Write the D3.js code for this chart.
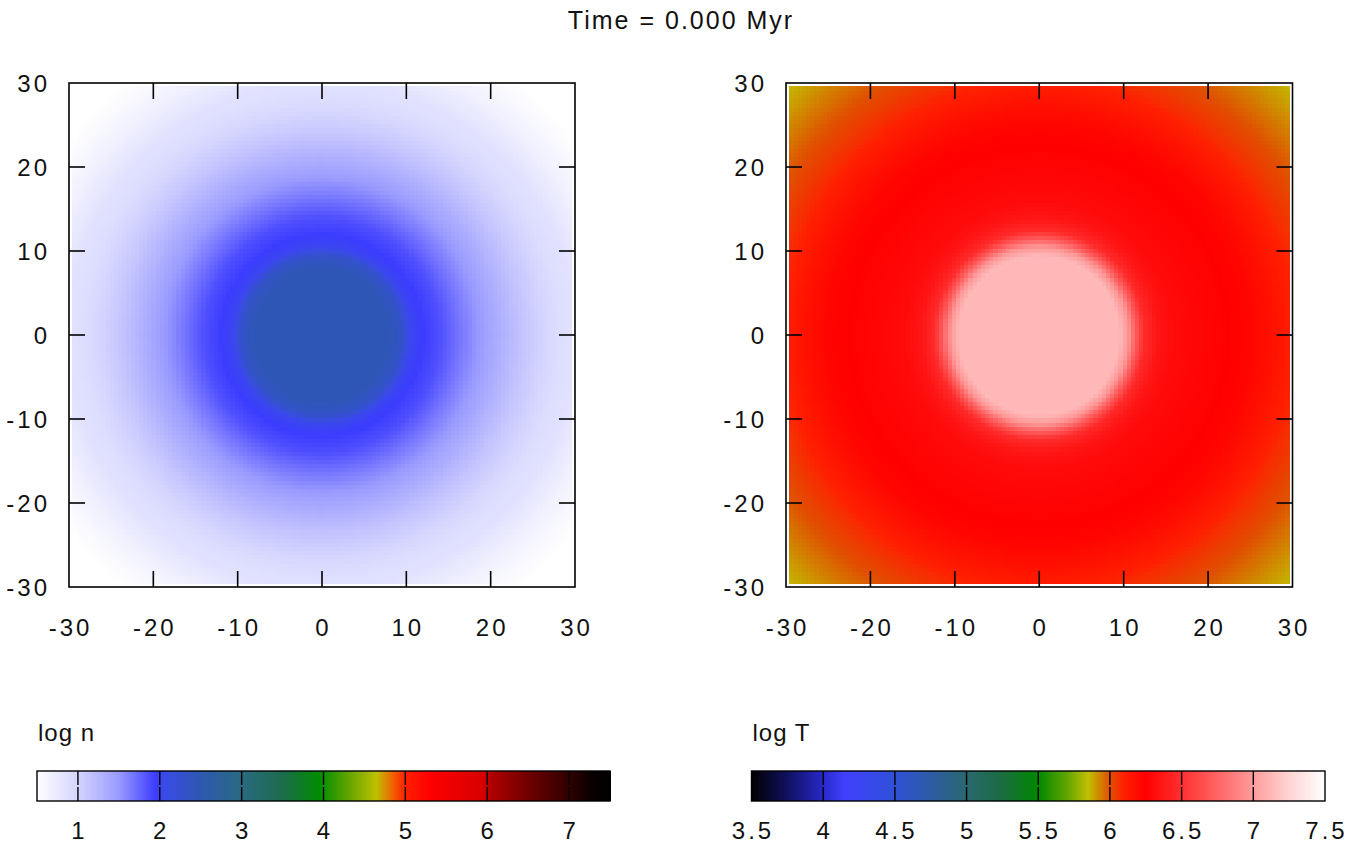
<!DOCTYPE html>
<html>
<head>
<meta charset="utf-8">
<script src="https://cdn.jsdelivr.net/npm/d3@7"></script>
<style>
  html, body { margin: 0; padding: 0; background: #fff; }
  svg { display: block; }
  text { font-family: "Liberation Sans", Arial, sans-serif; fill: #111; }
</style>
</head>
<body>
<svg id="chart" width="1356" height="854"></svg>
<script>
// ---------------- data ----------------
const titleText = "Time = 0.000 Myr";
const axisTicks = [-30, -20, -10, 0, 10, 20, 30];
const axisDomain = [-30, 30];
const imageExtent = [-29.6, 29.6];

// radial profiles (radius in plot units)
const profileR    = [0,    8,    9.5, 10.5, 12,   14,   16,  20,  24,   28,  30,   34,   38,  43];
const profileLogN = [2.45, 2.45, 2.3, 2.02, 1.95, 1.86, 1.7, 1.4, 1.12, 0.9, 0.85, 0.65, 0.5, 0.45];

const profileRT   = [0,    8.5,  9.5,  10.5, 11.5, 12.5, 14,   16,  20,   25,   28,   31,   35,  38,   42.5];
const profileLogT = [7.12, 7.12, 7.13, 6.98, 6.7,  6.47, 6.36, 6.3, 6.27, 6.23, 6.16, 6.08, 6.0, 5.94, 5.85];

// colour palettes
const nStopValues = [0.5, 1.0, 1.5, 1.95, 2.05, 2.5, 3.0, 3.5, 3.95, 4.3, 4.65, 4.85, 5.0, 5.3, 5.95, 6.05, 6.5, 7.0, 7.3, 7.5];
const nStopColors = ["#ffffff", "#d4d4ff", "#9a9aff", "#3c3cff", "#3a4ae8", "#2d58b0", "#2a6a80", "#1c6c4c", "#008c00",
                     "#60a400", "#c0c000", "#f06000", "#ff2000", "#ff0000", "#d80000", "#b00000", "#700000", "#300000", "#080000", "#000000"];
const nDomain = [0.5, 7.5];
const nTicks = [1, 2, 3, 4, 5, 6, 7];
const nLabel = "log n";

const tStopValues = [3.5, 3.75, 4.0, 4.15, 4.5, 5.0, 5.25, 5.5, 5.7, 5.85, 6.0, 6.1, 6.25, 6.5, 6.75, 7.0, 7.25, 7.5];
const tStopColors = ["#000000", "#101060", "#2828c8", "#4040ff", "#3050d8", "#2a6870", "#1a6c40", "#008800", "#60a400",
                     "#c0c000", "#e05000", "#ff2000", "#ff0000", "#ff3030", "#ff6464", "#ff9c9c", "#ffd4d4", "#ffffff"];
const tDomain = [3.5, 7.5];
const tTicks = [3.5, 4, 4.5, 5, 5.5, 6, 6.5, 7, 7.5];
const tLabel = "log T";

const gridCount = 120;

// ---------------- drawing ----------------
const svg = d3.select("#chart");
const FONT = 24;
const LS = 3;

svg.append("text")
  .attr("x", 681).attr("y", 29)
  .attr("text-anchor", "middle")
  .style("font-size", "25px").style("letter-spacing", "2px")
  .text(titleText);

function panel(x0, x1, y0, y1, rArr, vArr, stopV, stopC) {
  const g = svg.append("g");
  const xs = d3.scaleLinear().domain(axisDomain).range([x0, x1]);
  const ys = d3.scaleLinear().domain(axisDomain).range([y1, y0]);
  const prof = d3.scaleLinear().domain(rArr).range(vArr).clamp(true);
  const col = d3.scaleLinear().domain(stopV).range(stopC).clamp(true);
  const step = (imageExtent[1] - imageExtent[0]) / gridCount;
  const cells = [];
  for (let i = 0; i < gridCount; i++) {
    for (let j = 0; j < gridCount; j++) {
      const cx = imageExtent[0] + (i + 0.5) * step;
      const cy = imageExtent[0] + (j + 0.5) * step;
      cells.push({ x: imageExtent[0] + i * step, y: imageExtent[0] + (j + 1) * step, v: prof(Math.hypot(cx, cy)) });
    }
  }
  g.append("g").attr("shape-rendering", "crispEdges")
    .selectAll("rect").data(cells).join("rect")
    .attr("x", d => xs(d.x)).attr("y", d => ys(d.y))
    .attr("width", xs(step) - xs(0) + 0.6)
    .attr("height", ys(0) - ys(step) + 0.6)
    .attr("fill", d => col(d.v));

  // frame
  g.append("rect").attr("x", x0).attr("y", y0).attr("width", x1 - x0).attr("height", y1 - y0)
    .attr("fill", "none").attr("stroke", "#000").attr("stroke-width", 1.6);

  // inward ticks on all sides
  const TL = 16;
  const tg = g.append("g").attr("stroke", "#000").attr("stroke-width", 1.6);
  axisTicks.slice(1, -1).forEach(t => {
    tg.append("line").attr("x1", xs(t)).attr("x2", xs(t)).attr("y1", y1).attr("y2", y1 - TL);
    tg.append("line").attr("x1", xs(t)).attr("x2", xs(t)).attr("y1", y0).attr("y2", y0 + TL);
    tg.append("line").attr("y1", ys(t)).attr("y2", ys(t)).attr("x1", x0).attr("x2", x0 + TL);
    tg.append("line").attr("y1", ys(t)).attr("y2", ys(t)).attr("x1", x1).attr("x2", x1 - TL);
  });

  // labels (plain hyphen minus, as in the original)
  axisTicks.forEach(t => {
    g.append("text").attr("x", xs(t) + LS / 2).attr("y", y1 + 49)
      .attr("text-anchor", "middle")
      .style("font-size", FONT + "px").style("letter-spacing", LS + "px")
      .text(String(t));
    g.append("text").attr("x", x0 - 22 + LS).attr("y", ys(t) + 9)
      .attr("text-anchor", "end")
      .style("font-size", FONT + "px").style("letter-spacing", LS + "px")
      .text(String(t));
  });
}

panel(69, 575, 83, 587, profileR, profileLogN, nStopValues, nStopColors);
panel(786, 1292.5, 83, 587, profileRT, profileLogT, tStopValues, tStopColors);

function colorbar(x0, x1, y0, y1, domain, stopV, stopC, ticks, label) {
  const g = svg.append("g");
  const xs = d3.scaleLinear().domain(domain).range([x0, x1]);
  const col = d3.scaleLinear().domain(stopV).range(stopC).clamp(true);
  const n = Math.round(x1 - x0);
  const samples = d3.range(n).map(i => domain[0] + (i + 0.5) * (domain[1] - domain[0]) / n);
  const w = (x1 - x0) / n;
  g.append("g").attr("shape-rendering", "crispEdges")
    .selectAll("rect").data(samples).join("rect")
    .attr("x", d => xs(d) - w / 2).attr("y", y0)
    .attr("width", w + 0.6).attr("height", y1 - y0)
    .attr("fill", d => col(d));
  g.append("rect").attr("x", x0).attr("y", y0).attr("width", x1 - x0).attr("height", y1 - y0)
    .attr("fill", "none").attr("stroke", "#000").attr("stroke-width", 1.4);
  const tg = g.append("g").attr("stroke", "#000").attr("stroke-width", 1.4);
  ticks.forEach(t => {
    if (t <= domain[0] || t >= domain[1]) return;
    tg.append("line").attr("x1", xs(t)).attr("x2", xs(t)).attr("y1", y0).attr("y2", y0 + 14);
    tg.append("line").attr("x1", xs(t)).attr("x2", xs(t)).attr("y1", y1).attr("y2", y1 - 14);
  });
  ticks.forEach(t => {
    g.append("text").attr("x", xs(t) + LS / 2).attr("y", y1 + 38)
      .attr("text-anchor", "middle")
      .style("font-size", FONT + "px").style("letter-spacing", LS + "px")
      .text(String(t));
  });
  g.append("text").attr("x", x0 + 1).attr("y", y0 - 30)
    .style("font-size", FONT + "px").style("letter-spacing", "1px")
    .text(label);
}

colorbar(37, 610, 771, 801, nDomain, nStopValues, nStopColors, nTicks, nLabel);
colorbar(751.5, 1325, 771, 801, tDomain, tStopValues, tStopColors, tTicks, tLabel);
</script>
</body>
</html>
